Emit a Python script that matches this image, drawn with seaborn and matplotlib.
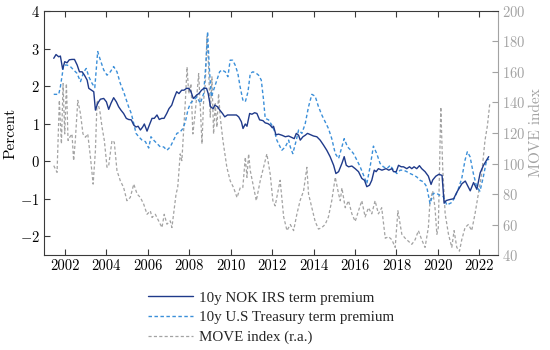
import pandas as pd
import matplotlib
matplotlib.use("Agg")
import matplotlib.pyplot as plt
import seaborn as sns

# 10y NOK IRS term premium (percent)
nok_year = [2001.47, 2001.58, 2001.71, 2001.79, 2001.90, 2002.00, 2002.11, 2002.22, 2002.35, 2002.47,
            2002.60, 2002.71, 2002.84, 2002.95, 2003.08, 2003.16, 2003.32, 2003.40, 2003.48, 2003.59,
            2003.72, 2003.88, 2004.01, 2004.12, 2004.23, 2004.36, 2004.49, 2004.60, 2004.71, 2004.84,
            2004.97, 2005.08, 2005.21, 2005.33, 2005.44, 2005.54, 2005.65, 2005.76, 2005.84, 2005.97,
            2006.08, 2006.21, 2006.32, 2006.45, 2006.56, 2006.68, 2006.79, 2006.92, 2007.03, 2007.16,
            2007.27, 2007.40, 2007.51, 2007.64, 2007.75, 2007.88, 2007.99, 2008.09, 2008.20, 2008.28,
            2008.36, 2008.47, 2008.60, 2008.71, 2008.84, 2008.92, 2009.03, 2009.16, 2009.24, 2009.37,
            2009.48, 2009.61, 2009.72, 2009.85, 2009.96, 2010.12, 2010.28, 2010.39, 2010.52, 2010.60,
            2010.71, 2010.79, 2010.92, 2011.03, 2011.16, 2011.27, 2011.40, 2011.56, 2011.67, 2011.80,
            2011.91, 2012.01, 2012.07, 2012.19, 2012.31, 2012.48, 2012.64, 2012.80, 2012.96, 2013.07,
            2013.17, 2013.28, 2013.36, 2013.49, 2013.60, 2013.71, 2013.84, 2014.00, 2014.16, 2014.32,
            2014.48, 2014.64, 2014.80, 2014.97, 2015.08, 2015.21, 2015.37, 2015.48, 2015.58, 2015.69,
            2015.85, 2016.01, 2016.17, 2016.33, 2016.46, 2016.57, 2016.70, 2016.81, 2016.93, 2017.02,
            2017.13, 2017.30, 2017.50, 2017.63, 2017.78, 2017.86, 2017.99, 2018.10, 2018.23, 2018.34,
            2018.50, 2018.63, 2018.74, 2018.85, 2018.98, 2019.11, 2019.22, 2019.38, 2019.54, 2019.67,
            2019.75, 2019.90, 2020.05, 2020.20, 2020.30, 2020.40, 2020.52, 2020.76, 2020.92, 2021.16,
            2021.32, 2021.56, 2021.72, 2021.88, 2022.04, 2022.20, 2022.45]
nok_tp = [2.74, 2.84, 2.78, 2.80, 2.45, 2.65, 2.62, 2.70, 2.71, 2.71,
          2.56, 2.38, 2.38, 2.29, 2.16, 1.94, 1.88, 1.85, 1.36, 1.54,
          1.65, 1.67, 1.58, 1.38, 1.54, 1.69, 1.58, 1.45, 1.36, 1.27,
          1.14, 1.11, 1.10, 0.96, 0.91, 0.93, 0.83, 0.91, 0.99, 0.80,
          0.96, 1.14, 1.14, 1.23, 1.11, 1.14, 1.14, 1.27, 1.40, 1.49,
          1.67, 1.85, 1.80, 1.89, 1.89, 1.94, 1.94, 1.85, 1.67, 1.71,
          1.76, 1.80, 1.89, 1.94, 1.94, 1.80, 1.45, 1.40, 1.49, 1.45,
          1.36, 1.27, 1.18, 1.23, 1.23, 1.23, 1.23, 1.18, 1.05, 0.87,
          0.99, 0.93, 1.27, 1.25, 1.29, 1.27, 1.10, 1.08, 1.02, 1.00,
          0.96, 0.89, 0.93, 0.70, 0.72, 0.69, 0.65, 0.67, 0.63, 0.60,
          0.74, 0.69, 0.56, 0.65, 0.69, 0.74, 0.71, 0.67, 0.65, 0.56,
          0.43, 0.29, 0.12, -0.11, -0.33, -0.28, -0.06, 0.12, -0.11, -0.15,
          -0.13, -0.20, -0.28, -0.46, -0.51, -0.68, -0.64, -0.51, -0.24, -0.28,
          -0.20, -0.24, -0.20, -0.24, -0.20, -0.28, -0.28, -0.11, -0.15, -0.15,
          -0.20, -0.15, -0.20, -0.15, -0.20, -0.12, -0.20, -0.28, -0.40, -0.62,
          -0.50, -0.40, -0.35, -0.38, -1.12, -1.05, -1.03, -1.00, -0.82, -0.60,
          -0.53, -0.79, -0.57, -0.75, -0.31, -0.11, 0.12]

# 10y U.S Treasury term premium (percent)
us_year = [2001.47, 2001.71, 2001.79, 2001.95, 2002.11, 2002.27, 2002.43, 2002.59, 2002.76, 2002.92,
           2003.04, 2003.16, 2003.32, 2003.45, 2003.59, 2003.72, 2003.88, 2004.04, 2004.20, 2004.36,
           2004.52, 2004.68, 2004.84, 2004.97, 2005.08, 2005.21, 2005.33, 2005.44, 2005.57, 2005.73,
           2005.89, 2006.05, 2006.16, 2006.29, 2006.45, 2006.61, 2006.77, 2006.93, 2007.09, 2007.25,
           2007.41, 2007.57, 2007.70, 2007.82, 2007.94, 2008.06, 2008.22, 2008.38, 2008.54, 2008.70,
           2008.81, 2008.89, 2008.97, 2009.07, 2009.18, 2009.34, 2009.47, 2009.58, 2009.74, 2009.87,
           2009.98, 2010.10, 2010.22, 2010.35, 2010.46, 2010.59, 2010.71, 2010.84, 2010.95, 2011.08,
           2011.24, 2011.35, 2011.48, 2011.59, 2011.67, 2011.83, 2011.99, 2012.10, 2012.23,
           2012.47, 2012.64, 2012.80, 2012.88, 2013.00, 2013.17, 2013.28, 2013.44, 2013.60, 2013.76,
           2013.92, 2014.08, 2014.24, 2014.40, 2014.56, 2014.72, 2014.88, 2015.05, 2015.21, 2015.37,
           2015.48, 2015.64, 2015.80, 2015.93, 2016.09, 2016.25, 2016.41, 2016.57, 2016.73, 2016.89,
           2017.05, 2017.21, 2017.37, 2017.54, 2017.70, 2017.86, 2018.02, 2018.18, 2018.34, 2018.50,
           2018.66, 2018.82, 2018.98, 2019.14, 2019.30, 2019.46, 2019.62, 2019.78, 2019.94, 2020.10,
           2020.27, 2020.43, 2020.67, 2020.83, 2020.99, 2021.15, 2021.31, 2021.42, 2021.55, 2021.71,
           2021.87, 2022.03, 2022.19, 2022.35, 2022.47]
us_tp = [1.78, 1.78, 1.98, 2.56, 2.56, 2.52, 2.43, 2.34, 2.12, 2.38,
         2.47, 2.25, 2.07, 1.96, 2.92, 2.69, 2.43, 2.29, 2.38, 2.52,
         2.38, 2.07, 1.85, 1.63, 1.45, 1.27, 1.00, 0.74, 0.65, 0.56,
         0.52, 0.35, 0.65, 0.56, 0.47, 0.38, 0.38, 0.29, 0.38, 0.56,
         0.74, 0.78, 0.87, 1.05, 1.36, 1.54, 1.63, 1.71, 1.54, 1.80,
         2.60, 3.45, 2.52, 1.71, 1.89, 2.16, 2.38, 2.43, 2.38, 2.25,
         2.69, 2.69, 2.56, 2.34, 1.98, 1.63, 1.58, 1.85, 2.34, 2.38,
         2.34, 2.29, 2.16, 1.63, 1.14, 1.10, 0.96, 0.83, 0.56,
         0.29, 0.38, 0.56, 0.38, 0.20, 0.56, 0.83, 0.74, 1.00, 1.45,
         1.78, 1.73, 1.45, 1.23, 1.05, 0.87, 0.60, 0.20, 0.07, 0.38,
         0.60, 0.38, 0.29, 0.20, 0.03, -0.15, -0.37, -0.60, -0.15, 0.40,
         0.20, -0.06, -0.15, -0.20, -0.11, -0.24, -0.33, -0.24, -0.24, -0.28,
         -0.33, -0.37, -0.42, -0.51, -0.55, -0.68, -1.13, -0.86, -0.86, -0.91,
         -0.95, -1.17, -1.10, -0.95, -0.73, -0.46, 0.03, 0.25, 0.12, -0.33,
         -0.68, -0.80, -0.42, 0.03, 0.05]

# MOVE index (right axis)
move_year = [2001.47, 2001.63, 2001.74, 2001.84, 2001.92, 2002.00, 2002.08, 2002.16, 2002.24, 2002.35,
             2002.43, 2002.51, 2002.63, 2002.76, 2002.88, 2003.00, 2003.11, 2003.24, 2003.37, 2003.48,
             2003.56, 2003.69, 2003.80, 2003.91, 2004.04, 2004.12, 2004.28, 2004.39, 2004.52, 2004.68,
             2004.84, 2005.00, 2005.16, 2005.33, 2005.49, 2005.65, 2005.81, 2005.97, 2006.13, 2006.21,
             2006.37, 2006.53, 2006.69, 2006.80, 2006.93, 2007.09, 2007.17, 2007.25, 2007.37, 2007.45,
             2007.57, 2007.65, 2007.82, 2007.90, 2007.98, 2008.09, 2008.18, 2008.27, 2008.38, 2008.46,
             2008.54, 2008.62, 2008.70, 2008.78, 2008.86, 2008.94, 2009.02, 2009.10, 2009.18, 2009.26,
             2009.34, 2009.42, 2009.50, 2009.63, 2009.82, 2009.98, 2010.14, 2010.31, 2010.47, 2010.59,
             2010.71, 2010.79, 2010.87, 2010.95, 2011.11, 2011.24, 2011.43, 2011.59, 2011.75, 2011.91,
             2012.04, 2012.15,
             2012.39, 2012.56, 2012.72, 2012.88, 2013.04, 2013.20, 2013.36, 2013.52, 2013.68, 2013.76,
             2013.92, 2014.08, 2014.24, 2014.40, 2014.56, 2014.72, 2014.88, 2015.05, 2015.21, 2015.29,
             2015.37, 2015.53, 2015.69, 2015.85, 2016.01, 2016.17, 2016.33, 2016.49, 2016.65, 2016.81,
             2016.97, 2017.13, 2017.29, 2017.46, 2017.62, 2017.78, 2017.94, 2018.07, 2018.26, 2018.42,
             2018.58, 2018.74, 2018.90, 2019.06, 2019.22, 2019.38, 2019.54, 2019.62, 2019.75, 2019.86,
             2019.95, 2020.02, 2020.14, 2020.23, 2020.35, 2020.51, 2020.67, 2020.78, 2020.91, 2021.04,
             2021.15, 2021.31, 2021.47, 2021.63, 2021.79, 2021.95, 2022.11, 2022.27, 2022.39, 2022.50]
move_idx = [98.6, 94.2, 141.4, 112.9, 152.4, 119.4, 152.4, 115.1, 117.2, 119.4,
            101.9, 115.1, 141.4, 132.6, 119.4, 117.2, 119.4, 104.1, 86.5, 108.5,
            141.4, 134.8, 123.8, 115.1, 97.5, 98.6, 115.1, 114.0, 95.3, 88.7,
            84.3, 75.6, 77.7, 86.5, 80.0, 77.7, 73.3, 66.7, 68.9, 64.6,
            66.7, 62.4, 58.0, 66.7, 60.2, 62.4, 58.0, 66.7, 80.0, 84.3,
            106.3, 101.9, 141.4, 163.3, 145.8, 152.4, 119.4, 130.4, 145.8, 159.0,
            137.0, 112.9, 141.4, 152.4, 183.1, 163.3, 130.4, 156.8, 119.4, 139.2,
            123.8, 145.8, 130.4, 115.1, 97.5, 88.7, 84.3, 77.7, 84.3, 84.3,
            104.1, 90.9, 106.3, 95.3, 84.3, 75.6, 88.7, 97.5, 106.3, 93.1,
            75.6, 72.2,
            89, 65, 56, 60, 56, 67, 76, 82, 97.5, 80,
            71, 62, 57, 58, 60, 65, 75.6, 91, 80, 75.6,
            84, 71, 75.6, 67, 62, 69, 75.6, 65, 71, 67,
            75.6, 67, 71, 51, 52, 50, 45, 69, 53.6, 51,
            49, 47, 50, 56, 50, 45, 58, 75.6, 82, 71,
            53.6, 58, 137, 97.5, 67, 53.6, 45, 56, 45, 42.5,
            50, 58, 60, 56, 67, 80, 93, 115, 125, 139]

year_ticks = list(range(2002, 2023, 2))
labels = ["10y NOK IRS term premium", "10y U.S Treasury term premium", "MOVE index (r.a.)"]

nok = pd.DataFrame({"year": nok_year, "value": nok_tp})
us = pd.DataFrame({"year": us_year, "value": us_tp})
move = pd.DataFrame({"year": move_year, "value": move_idx})

sns.set_style("ticks")
plt.rcParams["font.family"] = "serif"
plt.rcParams["font.serif"] = ["cmr10", "DejaVu Serif"]
plt.rcParams["mathtext.fontset"] = "cm"
plt.rcParams["axes.formatter.use_mathtext"] = True

dark = "#1f3a8a"
light = "#3b8fd9"
grey = "#a3a3a3"
axcol = "#3a3a3a"

fig = plt.figure(figsize=(5.5, 3.5), dpi=100)
ax = fig.add_axes([0.08, 0.2714, 0.8255, 0.6972])
ax2 = ax.twinx()

sns.lineplot(data=move, x="year", y="value", ax=ax2, color=grey, linewidth=0.9,
             linestyle=(0, (2.5, 1.8)), label=labels[2], legend=False)
sns.lineplot(data=us, x="year", y="value", ax=ax, color=light, linewidth=1.0,
             linestyle=(0, (2.5, 1.8)), label=labels[1], legend=False)
sns.lineplot(data=nok, x="year", y="value", ax=ax, color=dark, linewidth=1.0,
             label=labels[0], legend=False)

# blue lines above the grey MOVE line
ax.set_zorder(ax2.get_zorder() + 1)
ax.patch.set_visible(False)

ax.set_xlim(2001.0, 2022.9)
ax.set_ylim(-2.5, 4)
ax2.set_ylim(40, 200)
ax.set_xticks(year_ticks, [str(y) for y in year_ticks])
ax.set_yticks(range(-2, 5))
ax2.set_yticks(range(40, 201, 20))

ax.set_xlabel("")
ax.set_ylabel("Percent", fontsize=11, color="black", labelpad=2)
ax2.set_xlabel("")
ax2.set_ylabel("MOVE index", fontsize=11, color=grey, labelpad=3)

ax.tick_params(axis="both", direction="in", length=4, width=0.8, colors=axcol,
               labelcolor="black", labelsize=10.5, top=True, right=False, pad=3)
ax2.tick_params(axis="y", direction="in", length=4, width=0.8, colors=grey,
                labelcolor=grey, labelsize=10.5, pad=3)

for side in ["left", "bottom", "top"]:
    ax.spines[side].set_color(axcol)
    ax.spines[side].set_linewidth(0.8)
ax.spines["right"].set_visible(False)
ax2.spines["right"].set_color(grey)
ax2.spines["right"].set_linewidth(0.8)
for side in ["left", "bottom", "top"]:
    ax2.spines[side].set_visible(False)

h1, l1 = ax.get_legend_handles_labels()
h2, l2 = ax2.get_legend_handles_labels()
handles = h1[::-1] + h2
fig.legend(handles, labels, loc="upper center", bbox_to_anchor=(0.493, 0.207),
           frameon=False, ncol=1, handlelength=3.0, handletextpad=0.35,
           labelspacing=0.42, prop={"family": "Liberation Serif", "size": 10.8})

fig.savefig("out.png", dpi=100)
